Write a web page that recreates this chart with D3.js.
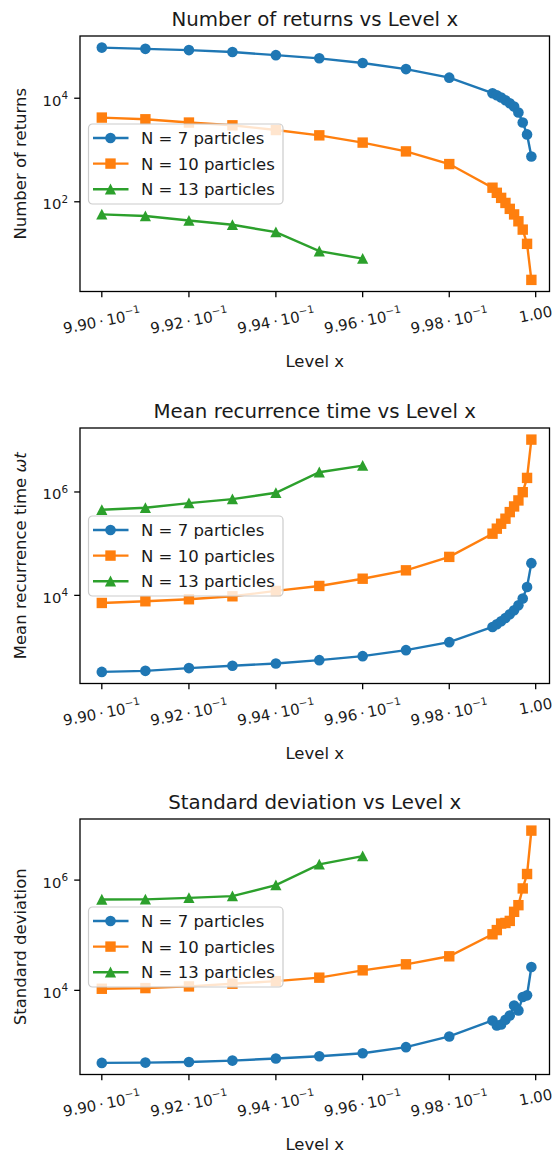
<!DOCTYPE html>
<html>
<head>
<meta charset="utf-8">
<script src="https://cdn.jsdelivr.net/npm/d3@7"></script>
<style>
  body { margin: 0; background: #fff; }
  text { font-family: "DejaVu Sans", sans-serif; fill: #1a1a1a; }
</style>
</head>
<body>
<div id="chart"></div>
<script>
// Niveles x (eje horizontal, escala log)
const levelX = [0.990, 0.991, 0.992, 0.993, 0.994, 0.995, 0.996, 0.997, 0.998,
  0.999, 0.9991, 0.9992, 0.9993, 0.9994, 0.9995, 0.9996, 0.9997, 0.9998, 0.9999];
const levelX13 = [0.990, 0.991, 0.992, 0.993, 0.994, 0.995, 0.996];

// Numero de retornos
const returns7 = [95000, 90000, 85000, 78000, 68000, 59000, 48000, 36500, 25000,
  12500, 11400, 10300, 9150, 8000, 6900, 5300, 3400, 2000, 750];
const returns10 = [4230, 3920, 3390, 3000, 2430, 1920, 1390, 940, 535,
  187, 149, 119, 95, 73, 57, 42, 29, 15.4, 3.1];
const returns13 = [57, 53, 43.5, 36, 25.9, 11.1, 8.0];

// Tiempo medio de recurrencia
const meanTime7 = [331, 347, 392, 434, 482, 558, 667, 871, 1245,
  2450, 2760, 3150, 3660, 4320, 5150, 6450, 8700, 14500, 42000];
const meanTime10 = [7130, 7690, 8410, 9600, 12200, 15200, 21000, 30500, 55500,
  156000, 195000, 243000, 304000, 408000, 525000, 686000, 991000, 1870000, 10300000];
const meanTime13 = [453000, 495000, 608000, 726000, 966000, 2410000, 3240000];

// Desviacion estandar
const stdDev7 = [484, 490, 503, 533, 580, 640, 725, 933, 1460,
  2850, 2310, 2400, 2930, 3510, 5330, 4330, 7590, 8130, 26500];
const stdDev10 = [10700, 11000, 11800, 13200, 14700, 17000, 23100, 29700, 41500,
  104000, 124000, 163000, 167000, 182000, 266000, 351000, 706000, 1290000, 7900000];
const stdDev13 = [446000, 448000, 476000, 512000, 811000, 1930000, 2730000];

const seriesNames = ['N = 7 particles', 'N = 10 particles', 'N = 13 particles'];
const seriesColors = ['#1f77b4', '#ff7f0e', '#2ca02c'];
const seriesMarkers = ['circle', 'square', 'triangle'];

const titles = ['Number of returns vs Level x', 'Mean recurrence time vs Level x', 'Standard deviation vs Level x'];
const yLabels = ['Number of returns', 'Mean recurrence time ', 'Standard deviation'];
const yTickExps = [[2, 4], [4, 6], [4, 6]];
const xTicks = [0.990, 0.992, 0.994, 0.996, 0.998, 1.0];
const xTickLabels = ['9.90', '9.92', '9.94', '9.96', '9.98', '1.00'];

const W = 555, H = 1154;
const left = 80, right = 549.5, boxH = 255.5;
const tops = [36, 428, 819];

const svg = d3.select('#chart').append('svg')
  .attr('width', W).attr('height', H);

const x = d3.scaleLog().domain([0.9895, 1.00032]).range([left, right]);

function marker(sel, type, color) {
  if (type === 'circle') {
    sel.append('circle').attr('r', 5.3).attr('fill', color);
  } else if (type === 'square') {
    sel.append('rect').attr('x', -5.2).attr('y', -5.2).attr('width', 10.4).attr('height', 10.4)
      .attr('fill', color);
  } else {
    sel.append('path').attr('d', 'M0,-5.6L5.6,5.2L-5.6,5.2Z').attr('fill', color);
  }
}

function drawPanel(i, series) {
  const top = tops[i], bottom = top + boxH;
  const g = svg.append('g');

  // dominio log con 5% de margen, como matplotlib
  const all = series.flatMap(s => s.y);
  const lo = Math.log10(d3.min(all)), hi = Math.log10(d3.max(all));
  const pad = (hi - lo) * 0.05;
  const y = d3.scaleLog().domain([10 ** (lo - pad), 10 ** (hi + pad)]).range([bottom, top]);

  // titulo
  g.append('text').attr('x', (left + right) / 2).attr('y', top - 10.5)
    .attr('text-anchor', 'middle').style('font-size', '19.8px').text(titles[i]);

  // series
  series.forEach((s, k) => {
    const pts = s.x.map((v, j) => [v, s.y[j]]);
    g.append('path').datum(pts)
      .attr('fill', 'none').attr('stroke', seriesColors[k]).attr('stroke-width', 2.4)
      .attr('d', d3.line().x(d => x(d[0])).y(d => y(d[1])));
    pts.forEach(d => {
      const m = g.append('g').attr('transform', `translate(${x(d[0])},${y(d[1])})`);
      marker(m, seriesMarkers[k], seriesColors[k]);
    });
  });

  // marco
  g.append('rect').attr('x', left).attr('y', top).attr('width', right - left).attr('height', boxH)
    .attr('fill', 'none').attr('stroke', '#000').attr('stroke-width', 1.3);

  // eje y
  yTickExps[i].forEach(e => {
    const ty = y(10 ** e);
    g.append('line').attr('x1', left - 5.8).attr('x2', left).attr('y1', ty).attr('y2', ty)
      .attr('stroke', '#000').attr('stroke-width', 1.3);
    const t = g.append('text').attr('x', left - 12).attr('y', ty + 7.5)
      .attr('text-anchor', 'end').style('font-size', '14.8px');
    t.append('tspan').text('10');
    t.append('tspan').attr('dy', -6.5).style('font-size', '10.4px').text(e);
  });
  const yl = g.append('text')
    .attr('transform', `translate(26,${(top + bottom) / 2}) rotate(-90)`)
    .attr('text-anchor', 'middle').style('font-size', '16.5px');
  yl.append('tspan').text(yLabels[i]);
  if (i === 1) yl.append('tspan').style('font-style', 'italic').text('ωt');

  // eje x
  xTicks.forEach((v, j) => {
    const tx = x(v);
    g.append('line').attr('x1', tx).attr('x2', tx).attr('y1', bottom).attr('y2', bottom + 5.8)
      .attr('stroke', '#000').attr('stroke-width', 1.3);
    const lab = g.append('g').attr('transform', `translate(${tx},${bottom})`);
    const t = lab.append('text').attr('text-anchor', 'middle').style('font-size', '15px')
      .attr('transform', 'rotate(-11)');
    if (j < xTicks.length - 1) {
      t.append('tspan').text(xTickLabels[j] + '\u2009\u00b7\u200910');
      t.append('tspan').attr('dy', -6.5).style('font-size', '10.5px').text('\u22121');
    } else {
      t.append('tspan').text(xTickLabels[j]);
    }
    const bb = lab.node().getBBox();
    t.attr('transform', `translate(${-(bb.x + bb.width / 2)},${11 - bb.y}) rotate(-11)`);
  });
  g.append('text').attr('x', (left + right) / 2).attr('y', bottom + 75.5)
    .attr('text-anchor', 'middle').style('font-size', '16.5px').text('Level x');

  // leyenda
  const lg = g.append('g').attr('transform', `translate(88.5,${top + 88})`);
  lg.append('rect').attr('width', 194.5).attr('height', 80).attr('rx', 4)
    .attr('fill', '#fff').attr('fill-opacity', 0.8).attr('stroke', '#cccccc').attr('stroke-width', 1.2);
  seriesNames.forEach((name, k) => {
    const ry = 14 + k * 25.6;
    lg.append('line').attr('x1', 4.5).attr('x2', 40).attr('y1', ry).attr('y2', ry)
      .attr('stroke', seriesColors[k]).attr('stroke-width', 2.4);
    const m = lg.append('g').attr('transform', `translate(22,${ry})`);
    marker(m, seriesMarkers[k], seriesColors[k]);
    lg.append('text').attr('x', 52.5).attr('y', ry + 6).style('font-size', '16.5px').text(name);
  });
}

drawPanel(0, [
  { x: levelX, y: returns7 },
  { x: levelX, y: returns10 },
  { x: levelX13, y: returns13 }
]);
drawPanel(1, [
  { x: levelX, y: meanTime7 },
  { x: levelX, y: meanTime10 },
  { x: levelX13, y: meanTime13 }
]);
drawPanel(2, [
  { x: levelX, y: stdDev7 },
  { x: levelX, y: stdDev10 },
  { x: levelX13, y: stdDev13 }
]);
</script>
</body>
</html>
